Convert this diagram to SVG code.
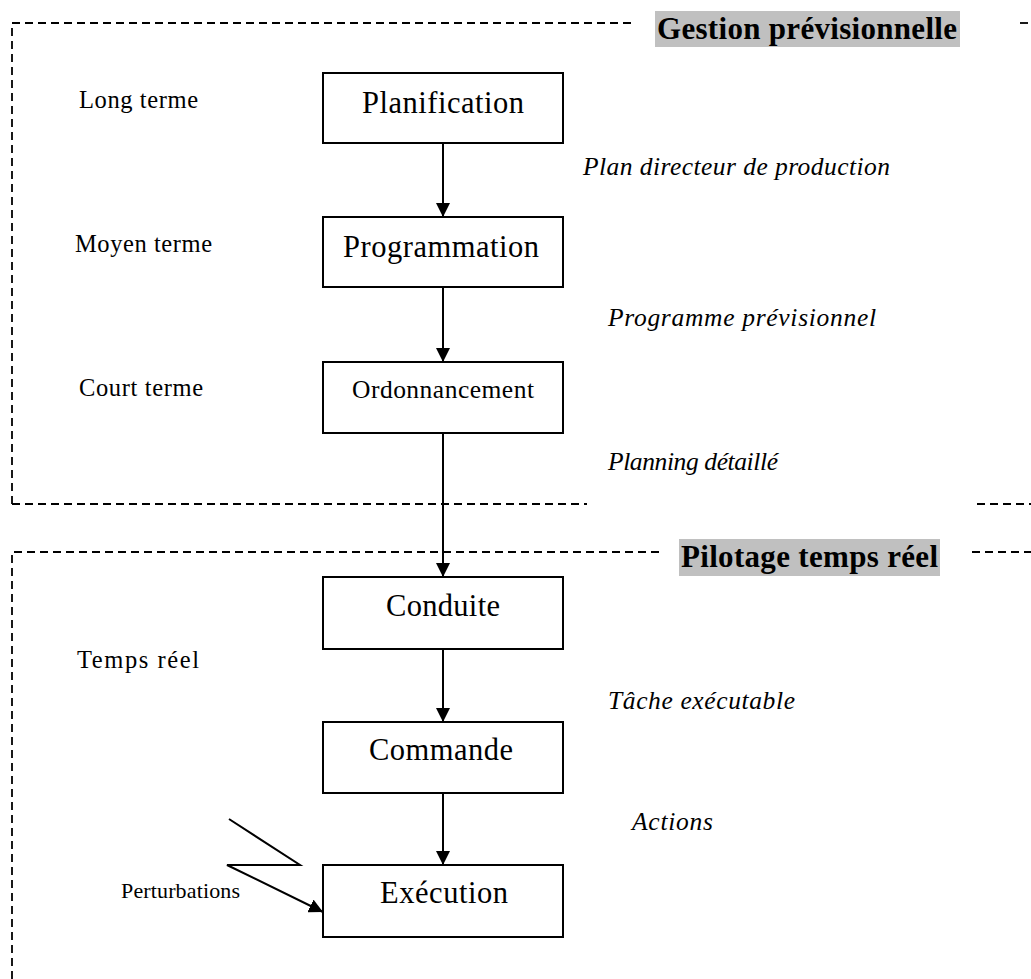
<svg xmlns="http://www.w3.org/2000/svg" width="1031" height="979" viewBox="0 0 1031 979">
<style>
.frame{fill:none;stroke:#000;stroke-width:1.8;stroke-dasharray:8 5}
.box{fill:#fff;stroke:#000;stroke-width:2}
.conn{fill:none;stroke:#000;stroke-width:2}
.t{font-family:"Liberation Serif","Times New Roman",serif;fill:#000}
.bl{font-size:30.5px;text-anchor:middle}
.lab{font-size:24.5px}
.it{font-size:25.5px;font-style:italic}
.title{font-size:31px;font-weight:bold}
.hl{fill:#c0c0c0}
</style>
<defs>
<marker id="ah" markerWidth="14" markerHeight="14" refX="14" refY="7" orient="auto" markerUnits="userSpaceOnUse">
<path d="M0,0 L14,7 L0,14 Z" fill="#000"/>
</marker>
</defs>
<rect width="1031" height="979" fill="#fff"/>
<g id="frames">
<path class="frame" d="M12,504 L12,23 L633,23"/>
<path class="frame" d="M1020,23 L1031,23"/>
<path class="frame" d="M12,504 L587,504"/>
<path class="frame" d="M977,504 L1031,504"/>
<path class="frame" d="M12,979 L12,552 L659,552"/>
<path class="frame" d="M972,552 L1031,552"/>
</g>
<g id="title-gestion">
<rect class="hl" x="655" y="11" width="305" height="36"/>
<text class="t title" x="657" y="39" textLength="300" lengthAdjust="spacing">Gestion prévisionnelle</text>
</g>
<g id="title-pilotage">
<rect class="hl" x="679" y="539" width="261" height="37"/>
<text class="t title" x="681" y="567" textLength="257" lengthAdjust="spacing">Pilotage temps réel</text>
</g>
<g id="connectors">
<line class="conn" x1="443" y1="143" x2="443" y2="217" marker-end="url(#ah)"/>
<line class="conn" x1="443" y1="287" x2="443" y2="362" marker-end="url(#ah)"/>
<line class="conn" x1="443" y1="433" x2="443" y2="577" marker-end="url(#ah)"/>
<line class="conn" x1="443" y1="649" x2="443" y2="722" marker-end="url(#ah)"/>
<line class="conn" x1="443" y1="793" x2="443" y2="865" marker-end="url(#ah)"/>
<path class="conn" d="M229,819 L300,865 L227,865 L323,912" stroke-width="1.5" marker-end="url(#ah)"/>
</g>
<g id="planification">
<rect class="box" x="323" y="73" width="240" height="70"/>
<text class="t bl" x="443" y="113" textLength="162" lengthAdjust="spacing">Planification</text>
</g>
<g id="programmation">
<rect class="box" x="323" y="217" width="240" height="70"/>
<text class="t bl" x="441" y="257" textLength="196" lengthAdjust="spacing">Programmation</text>
</g>
<g id="ordonnancement">
<rect class="box" x="323" y="362" width="240" height="71"/>
<text class="t bl" x="443" y="398" style="font-size:25.5px" textLength="182" lengthAdjust="spacing">Ordonnancement</text>
</g>
<g id="conduite">
<rect class="box" x="323" y="577" width="240" height="72"/>
<text class="t bl" x="443" y="616" textLength="114" lengthAdjust="spacing">Conduite</text>
</g>
<g id="commande">
<rect class="box" x="323" y="722" width="240" height="71"/>
<text class="t bl" x="441" y="760" textLength="144" lengthAdjust="spacing">Commande</text>
</g>
<g id="execution">
<rect class="box" x="323" y="865" width="240" height="72"/>
<text class="t bl" x="444" y="903" textLength="128" lengthAdjust="spacing">Exécution</text>
</g>
<g id="labels">
<text class="t lab" x="79" y="108" textLength="119" lengthAdjust="spacing">Long terme</text>
<text class="t lab" x="75" y="252" textLength="137" lengthAdjust="spacing">Moyen terme</text>
<text class="t lab" x="79" y="396" textLength="124" lengthAdjust="spacing">Court terme</text>
<text class="t lab" x="77" y="668" textLength="122" lengthAdjust="spacing">Temps réel</text>
<text class="t lab" x="121" y="898" style="font-size:22px" textLength="119" lengthAdjust="spacing">Perturbations</text>
<text class="t it" x="583" y="175" textLength="307" lengthAdjust="spacing">Plan directeur de production</text>
<text class="t it" x="608" y="326" textLength="268" lengthAdjust="spacing">Programme prévisionnel</text>
<text class="t it" x="608" y="470" textLength="170" lengthAdjust="spacing">Planning détaillé</text>
<text class="t it" x="608" y="709" textLength="187" lengthAdjust="spacing">Tâche exécutable</text>
<text class="t it" x="632" y="830" textLength="81" lengthAdjust="spacing">Actions</text>
</g>
</svg>
